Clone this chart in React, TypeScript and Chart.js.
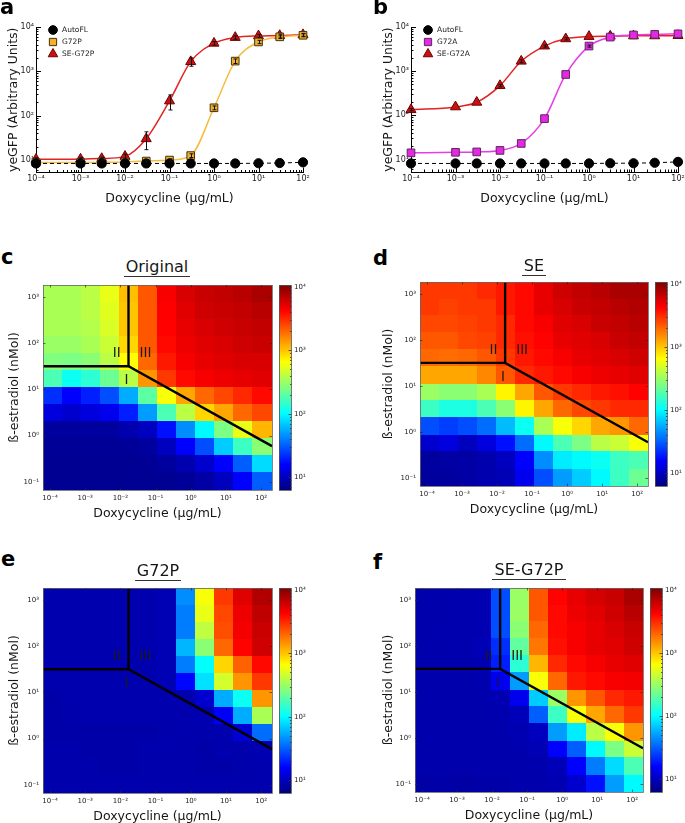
import React, { useEffect, useRef } from "react";
import { Chart, registerables } from "chart.js";

Chart.register(...registerables);
Chart.defaults.font.family = "'DejaVu Sans', 'Liberation Sans', sans-serif";
Chart.defaults.color = "#1e1e1e";

// ---------------- panels a & b : dose response ----------------
const doxycycline = [1e-4, 1e-3, 3e-3, 1e-2, 3e-2, 0.1, 0.3, 1, 3, 10, 30, 100];

const autoFlA = [8.3, 8.3, 8.3, 8.3, 8.3, 8.3, 8.3, 8.3, 8.3, 8.4, 8.5, 8.8];
const g72p = [8.7, 8.7, 8.8, 9.0, 9.4, 9.9, 12.5, 150, 1700, 4600, 6000, 6500];
const g72pErr = [0, 0, 0, 0, 0.5, 0.6, 1.2, 15, 200, 400, 500, 500];
const seG72p = [10.3, 10.4, 10.7, 12, 30, 214, 1650, 4300, 5800, 6300, 6400, 6700];
const seG72pErr = [0.8, 0.8, 0.8, 1.5, 13, 80, 350, 400, 500, 500, 500, 500];

const autoFlB = [8.1, 8.1, 8.1, 8.1, 8.1, 8.1, 8.1, 8.1, 8.2, 8.2, 8.4, 8.8];
const g72a = [14.1, 14.5, 14.8, 16, 23, 84, 840, 3700, 5900, 6600, 6800, 7000];
const g72aErr = [0.5, 0.5, 0.5, 0.6, 1, 4, 40, 200, 300, 300, 300, 300];
const seG72a = [134, 155, 197, 470, 1680, 3700, 5400, 6100, 6200, 6300, 6300, 6400];
const seG72aErr = [8, 8, 10, 30, 120, 200, 300, 300, 300, 300, 300, 300];

const doxyTicks = [1e-4, 1e-3, 1e-2, 1e-1, 1, 10, 100];
const gfpTicks = [10, 100, 1000, 10000];
const estradiolTicks = [0.1, 1, 10, 100, 1000];
const colorbarTicks = [10, 100, 1000, 10000];

// ---------------- panels c-f : heat maps (log10 yeGFP) ----------------
// rows: high -> low beta-estradiol, columns: low -> high doxycycline
const originalLog = [
  [2.55, 2.55, 2.6, 2.75, 3.02, 3.35, 3.65, 3.75, 3.8, 3.82, 3.85, 3.9],
  [2.55, 2.55, 2.6, 2.72, 3.0, 3.35, 3.63, 3.72, 3.78, 3.8, 3.82, 3.85],
  [2.55, 2.55, 2.58, 2.7, 3.0, 3.35, 3.62, 3.7, 3.75, 3.78, 3.8, 3.82],
  [2.5, 2.5, 2.55, 2.65, 2.95, 3.35, 3.6, 3.68, 3.72, 3.75, 3.78, 3.8],
  [2.42, 2.4, 2.45, 2.6, 2.82, 3.3, 3.55, 3.65, 3.7, 3.72, 3.75, 3.75],
  [2.25, 2.05, 2.15, 2.35, 2.6, 3.15, 3.45, 3.6, 3.65, 3.68, 3.7, 3.72],
  [1.35, 1.2, 1.3, 1.45, 1.75, 2.3, 2.8, 3.1, 3.3, 3.4, 3.5, 3.6],
  [1.1, 1.05, 1.1, 1.15, 1.3, 1.7, 2.25, 2.6, 2.95, 3.1, 3.3, 3.4],
  [0.9, 0.9, 0.9, 0.9, 0.95, 1.0, 1.25, 1.65, 2.0, 2.4, 2.75, 3.05],
  [0.87, 0.87, 0.87, 0.87, 0.88, 0.9, 1.0, 1.2, 1.45, 1.85, 2.2, 2.45],
  [0.86, 0.86, 0.86, 0.86, 0.86, 0.87, 0.9, 0.95, 1.05, 1.2, 1.5, 1.9],
  [0.86, 0.86, 0.86, 0.86, 0.86, 0.86, 0.86, 0.88, 0.92, 1.0, 1.2, 1.5],
];
const seLog = [
  [3.45, 3.45, 3.45, 3.5, 3.55, 3.6, 3.7, 3.78, 3.82, 3.85, 3.9, 3.9],
  [3.45, 3.42, 3.45, 3.45, 3.55, 3.6, 3.7, 3.75, 3.8, 3.82, 3.85, 3.87],
  [3.4, 3.4, 3.42, 3.45, 3.5, 3.6, 3.65, 3.72, 3.75, 3.8, 3.82, 3.85],
  [3.35, 3.35, 3.4, 3.42, 3.5, 3.58, 3.62, 3.7, 3.72, 3.75, 3.8, 3.82],
  [3.3, 3.28, 3.3, 3.35, 3.45, 3.55, 3.6, 3.65, 3.7, 3.72, 3.75, 3.78],
  [3.1, 3.1, 3.1, 3.2, 3.35, 3.5, 3.55, 3.6, 3.65, 3.68, 3.7, 3.72],
  [2.5, 2.45, 2.45, 2.55, 2.85, 3.1, 3.35, 3.45, 3.5, 3.55, 3.58, 3.62],
  [2.2, 2.1, 2.1, 2.25, 2.45, 2.85, 3.1, 3.3, 3.4, 3.45, 3.5, 3.5],
  [1.45, 1.4, 1.45, 1.55, 1.8, 2.05, 2.55, 2.8, 2.95, 3.1, 3.15, 3.3],
  [1.05, 1.1, 1.0, 1.1, 1.25, 1.55, 2.0, 2.25, 2.4, 2.6, 2.65, 2.8],
  [0.9, 0.92, 0.92, 0.95, 1.0, 1.2, 1.65, 1.95, 2.0, 2.05, 2.2, 2.25],
  [0.9, 0.9, 0.92, 0.95, 0.97, 1.15, 1.45, 1.7, 1.85, 2.0, 2.2, 2.35],
];
const g72pLog = [
  [0.95, 0.95, 0.95, 0.95, 0.95, 0.95, 0.97, 1.65, 2.8, 3.45, 3.72, 3.87],
  [0.95, 0.95, 0.95, 0.95, 0.95, 0.95, 0.97, 1.6, 2.75, 3.4, 3.68, 3.83],
  [0.95, 0.95, 0.95, 0.95, 0.95, 0.95, 0.97, 1.6, 2.62, 3.38, 3.66, 3.8],
  [0.95, 0.95, 0.95, 0.95, 0.95, 0.95, 0.97, 1.78, 2.45, 3.3, 3.62, 3.78],
  [0.95, 0.95, 0.95, 0.95, 0.95, 0.95, 0.97, 1.6, 2.02, 2.95, 3.32, 3.6],
  [0.95, 0.95, 0.95, 0.95, 0.95, 0.95, 0.97, 1.22, 1.92, 2.68, 3.15, 3.45],
  [0.93, 0.95, 0.95, 0.95, 0.95, 0.95, 0.95, 0.95, 1.05, 1.75, 2.05, 3.15],
  [0.93, 0.94, 0.95, 0.95, 0.95, 0.95, 0.95, 0.95, 0.96, 1.18, 1.75, 2.55],
  [0.93, 0.93, 0.93, 0.93, 0.93, 0.93, 0.94, 0.95, 0.94, 0.95, 1.07, 1.55],
  [0.94, 0.94, 0.93, 0.93, 0.93, 0.95, 0.95, 0.94, 0.93, 0.95, 0.94, 0.96],
  [0.94, 0.94, 0.94, 0.93, 0.93, 0.94, 0.94, 0.94, 0.93, 0.93, 0.94, 0.95],
  [0.94, 0.94, 0.94, 0.94, 0.94, 0.94, 0.94, 0.94, 0.94, 0.94, 0.94, 0.95],
];
const seG72pLog = [
  [0.94, 0.94, 0.95, 0.96, 1.45, 2.5, 3.35, 3.62, 3.7, 3.76, 3.8, 3.9],
  [0.94, 0.94, 0.95, 0.96, 1.45, 2.5, 3.35, 3.6, 3.68, 3.72, 3.78, 3.85],
  [0.94, 0.95, 0.95, 0.96, 1.45, 2.45, 3.3, 3.6, 3.65, 3.7, 3.75, 3.8],
  [0.94, 0.94, 0.95, 0.97, 1.35, 2.32, 3.25, 3.58, 3.65, 3.7, 3.72, 3.78],
  [0.94, 0.94, 0.94, 0.96, 1.3, 2.15, 3.05, 3.5, 3.6, 3.65, 3.7, 3.72],
  [0.94, 0.94, 0.94, 0.95, 1.15, 1.7, 2.8, 3.3, 3.55, 3.6, 3.65, 3.66],
  [0.94, 0.94, 0.94, 0.94, 0.96, 1.15, 1.85, 2.5, 3.15, 3.35, 3.5, 3.55],
  [0.94, 0.94, 0.94, 0.94, 0.95, 0.98, 1.5, 2.2, 2.8, 3.1, 3.3, 3.45],
  [0.94, 0.94, 0.94, 0.94, 0.94, 0.96, 1.0, 1.7, 1.95, 2.6, 2.8, 3.15],
  [0.94, 0.94, 0.94, 0.94, 0.94, 0.95, 0.97, 1.2, 1.5, 2.0, 2.4, 2.65],
  [0.94, 0.94, 0.94, 0.94, 0.94, 0.94, 0.95, 0.98, 1.2, 1.6, 1.9, 2.25],
  [0.92, 0.93, 0.92, 0.93, 0.93, 0.94, 0.94, 0.96, 1.05, 1.25, 1.7, 2.0],
];

// axis extents of the heat maps (log10 units) and colour range
const heatDoxyLog = [-4.2, 2.31];
const heatEstLog = [-1.18, 3.26];
const colorLog = [0.8, 4.03];

// regime boundaries (doxycycline, estradiol)
const boundaryLower = [
  { x: 6.31e-5, y: 31.6 },
  { x: 0.017, y: 31.6 },
  { x: 204, y: 0.59 },
];
const boundaryUpper = [
  { x: 0.017, y: 31.6 },
  { x: 0.017, y: 1820 },
];
const regimeLabels = [
  { text: "II", x: 0.0079, y: 59 },
  { text: "III", x: 0.052, y: 59 },
  { text: "I", x: 0.0148, y: 15.5 },
];

// ---------------- helpers ----------------
const SUP: Record<string, string> = {
  "-": "⁻", "0": "⁰", "1": "¹", "2": "²", "3": "³", "4": "⁴",
  "5": "⁵", "6": "⁶", "7": "⁷", "8": "⁸", "9": "⁹",
};
const pow10Label = (v: number) =>
  "10" + String(Math.round(Math.log10(v))).split("").map((c) => SUP[c]).join("");

const clamp01 = (v: number) => Math.max(0, Math.min(1, v));
function jet(t: number) {
  t = clamp01(t);
  const r = clamp01(1.5 - Math.abs(4 * t - 3));
  const g = clamp01(1.5 - Math.abs(4 * t - 2));
  const b = clamp01(1.5 - Math.abs(4 * t - 1));
  return `rgb(${Math.round(r * 255)},${Math.round(g * 255)},${Math.round(b * 255)})`;
}

type Box = { left: number; top: number; width: number; height: number };
type Area = { L: number; T: number; R: number; B: number };

function logAxis(o: {
  min: number; max: number; ticks: number[]; horizontal: boolean; size: number;
  position?: string; pad: number; font: number; title?: string; titlePad?: any; border?: boolean;
}) {
  return {
    type: "logarithmic",
    position: o.position,
    min: o.min,
    max: o.max,
    bounds: "data",
    grid: { display: false, drawTicks: false, tickLength: 0 },
    border: { display: !!o.border, color: "#000", width: 1 },
    ticks: {
      autoSkip: false,
      maxRotation: 0,
      minRotation: 0,
      padding: o.pad,
      color: "#222",
      font: { size: o.font },
      callback: (v: any) => pow10Label(Number(v)),
    },
    title: o.title
      ? { display: true, text: o.title, color: "#151515", font: { size: 12.5 }, padding: o.titlePad }
      : { display: false },
    afterBuildTicks: (s: any) => {
      s.ticks = o.ticks.map((v) => ({ value: v }));
    },
    afterFit: (s: any) => {
      if (o.horizontal) s.height = o.size;
      else s.width = o.size;
      s.paddingLeft = 0;
      s.paddingRight = 0;
      s.paddingTop = 0;
      s.paddingBottom = 0;
    },
  };
}

function drawMarker(ctx: CanvasRenderingContext2D, shape: string, x: number, y: number, r: number, fill: string, edge: string) {
  ctx.beginPath();
  if (shape === "circle") ctx.arc(x, y, r, 0, Math.PI * 2);
  else if (shape === "rect") {
    const s = r * Math.SQRT1_2;
    ctx.rect(x - s, y - s, 2 * s, 2 * s);
  } else {
    for (let k = 0; k < 3; k++) {
      const a = (k * 2 * Math.PI) / 3;
      const px = x + Math.sin(a) * r, py = y - Math.cos(a) * r;
      if (k === 0) ctx.moveTo(px, py);
      else ctx.lineTo(px, py);
    }
    ctx.closePath();
  }
  ctx.fillStyle = fill;
  ctx.fill();
  ctx.lineWidth = 1;
  ctx.strokeStyle = edge;
  ctx.stroke();
}

function inwardLogTicks(ctx: CanvasRenderingContext2D, scale: any, edge: number, dir: number, horizontal: boolean, major: number, minor: number) {
  const lo = Math.floor(Math.log10(scale.min)), hi = Math.ceil(Math.log10(scale.max));
  for (let e = lo; e <= hi; e++) {
    for (let m = 1; m <= 9; m++) {
      const v = m * Math.pow(10, e);
      if (v < scale.min * 0.999 || v > scale.max * 1.001) continue;
      const len = m === 1 ? major : minor;
      if (len <= 0) continue;
      const p = Math.round(scale.getPixelForValue(v)) + 0.5;
      ctx.beginPath();
      if (horizontal) {
        ctx.moveTo(p, edge);
        ctx.lineTo(p, edge + dir * len);
      } else {
        ctx.moveTo(edge, p);
        ctx.lineTo(edge + dir * len, p);
      }
      ctx.stroke();
    }
  }
}

// ---------------- line chart panels ----------------
type Series = {
  label: string; values: number[]; errors?: number[]; shape: string; radius: number;
  fill: string; edge: string; line: string; lineWidth: number; dash?: number[]; smooth: boolean;
};
type LinePanel = { key: string; canvas: Box; area: Area; yTitleX: number; xTitleY: number; series: Series[] };

const autoStyle = { shape: "circle", radius: 4.6, fill: "#000", edge: "#000", line: "#000", lineWidth: 1, dash: [4, 3], smooth: false };
const redStyle = { shape: "triangle", radius: 5.8, fill: "rgb(200,18,18)", edge: "rgb(110,0,0)", line: "rgb(225,35,35)", lineWidth: 1.5, smooth: true };

const linePanels: LinePanel[] = [
  {
    key: "a",
    canvas: { left: 0, top: 0, width: 338, height: 212 },
    area: { L: 36, T: 27, R: 303, B: 172.5 },
    yTitleX: 14,
    xTitleY: 199,
    series: [
      { label: "AutoFL", values: autoFlA, ...autoStyle },
      { label: "G72P", values: g72p, errors: g72pErr, shape: "rect", radius: 5.4, fill: "rgb(242,176,44)", edge: "rgb(70,50,10)", line: "rgb(246,188,62)", lineWidth: 1.5, smooth: true },
      { label: "SE-G72P", values: seG72p, errors: seG72pErr, ...redStyle },
    ],
  },
  {
    key: "b",
    canvas: { left: 340, top: 0, width: 345, height: 212 },
    area: { L: 411, T: 27, R: 678, B: 172 },
    yTitleX: 389,
    xTitleY: 199,
    series: [
      { label: "AutoFL", values: autoFlB, ...autoStyle },
      { label: "G72A", values: g72a, errors: g72aErr, shape: "rect", radius: 5.4, fill: "rgb(228,40,228)", edge: "rgb(90,40,90)", line: "rgb(232,60,232)", lineWidth: 1.5, smooth: true },
      { label: "SE-G72A", values: seG72a, errors: seG72aErr, ...redStyle },
    ],
  },
];

function makeLineChart(canvas: HTMLCanvasElement, p: LinePanel) {
  const cv = p.canvas, ar = p.area;
  const series = p.series;
  const extras = {
    id: "extras",
    afterDatasetsDraw(chart: any) {
      const { ctx } = chart;
      const ys = chart.scales.y;
      ctx.save();
      ctx.strokeStyle = "#111";
      ctx.lineWidth = 1;
      series.forEach((s, di) => {
        if (!s.errors) return;
        const meta = chart.getDatasetMeta(di);
        s.errors.forEach((err, j) => {
          if (!err) return;
          const el = meta.data[j];
          const v = s.values[j];
          const y0 = ys.getPixelForValue(Math.max(v - err, 1e-3));
          const y1 = ys.getPixelForValue(v + err);
          if (Math.abs(y0 - y1) < 2) return;
          const x = Math.round(el.x) + 0.5;
          ctx.beginPath();
          ctx.moveTo(x, y0);
          ctx.lineTo(x, y1);
          ctx.moveTo(x - 2, y0);
          ctx.lineTo(x + 2, y0);
          ctx.moveTo(x - 2, y1);
          ctx.lineTo(x + 2, y1);
          ctx.stroke();
        });
      });
      ctx.restore();
    },
    afterDraw(chart: any) {
      const { ctx, chartArea } = chart;
      ctx.save();
      ctx.strokeStyle = "#000";
      ctx.lineWidth = 1;
      inwardLogTicks(ctx, chart.scales.x, chartArea.bottom, -1, true, 5, 2.5);
      inwardLogTicks(ctx, chart.scales.y, chartArea.left, 1, false, 5, 2.5);
      // legend inside the plot
      series.forEach((s, i) => {
        const x = chartArea.left + 17;
        const y = chartArea.top + 3 + i * 12;
        drawMarker(ctx, s.shape, x, y, s.radius * 0.95, s.fill, s.edge);
        ctx.fillStyle = "#1a1a1a";
        ctx.font = "7.5px 'DejaVu Sans'";
        ctx.textBaseline = "middle";
        ctx.textAlign = "left";
        ctx.fillText(s.label, x + 9, y);
      });
      ctx.restore();
    },
  };
  return new Chart(canvas, {
    type: "line",
    data: {
      datasets: series.map((s) => ({
        label: s.label,
        data: doxycycline.map((x, i) => ({ x, y: s.values[i] })),
        borderColor: s.line,
        borderWidth: s.lineWidth,
        borderDash: s.dash || [],
        pointStyle: s.shape as any,
        pointRadius: s.radius,
        pointBackgroundColor: s.fill,
        pointBorderColor: s.edge,
        pointBorderWidth: 1,
        cubicInterpolationMode: s.smooth ? "monotone" : "default",
        tension: 0,
        clip: false,
      })),
    },
    options: {
      animation: false,
      responsive: false,
      events: [],
      layout: { padding: { top: ar.T - cv.top, right: cv.left + cv.width - ar.R, left: 0, bottom: 0 } },
      plugins: { legend: { display: false }, tooltip: { enabled: false } },
      scales: {
        x: logAxis({
          min: 1e-4, max: 100, ticks: doxyTicks, horizontal: true, size: cv.top + cv.height - ar.B,
          pad: 2, font: 8, title: "Doxycycline (µg/mL)", border: true,
          titlePad: { top: 0, bottom: cv.top + cv.height - p.xTitleY - 7.5 },
        }),
        y: logAxis({
          min: 5.19, max: 10000, ticks: gfpTicks, horizontal: false, size: ar.L - cv.left,
          pad: 2, font: 8, title: "yeGFP (Arbitrary Units)", border: true,
          titlePad: { top: p.yTitleX - cv.left - 7.5, bottom: 0 },
        }),
      } as any,
    },
    plugins: [extras],
  } as any);
}

// ---------------- heat map panels ----------------
type HeatPanel = { key: string; values: number[][]; canvas: Box; area: Area; yTitleX: number; xTitleY: number };

const heatPanels: HeatPanel[] = [
  { key: "c", values: originalLog, canvas: { left: 0, top: 278, width: 330, height: 247 }, area: { L: 43, T: 285, R: 272, B: 490 }, yTitleX: 15, xTitleY: 514 },
  { key: "d", values: seLog, canvas: { left: 340, top: 275, width: 345, height: 250 }, area: { L: 420, T: 282, R: 648, B: 486 }, yTitleX: 389, xTitleY: 510 },
  { key: "e", values: g72pLog, canvas: { left: 0, top: 580, width: 330, height: 250 }, area: { L: 43, T: 588, R: 272, B: 793 }, yTitleX: 15, xTitleY: 817 },
  { key: "f", values: seG72pLog, canvas: { left: 340, top: 580, width: 345, height: 250 }, area: { L: 415, T: 588, R: 643, B: 792 }, yTitleX: 389, xTitleY: 816 },
];

function makeHeatChart(canvas: HTMLCanvasElement, p: HeatPanel) {
  const cv = p.canvas, ar = p.area;
  const vals = p.values;
  const heat = {
    id: "heat",
    beforeDatasetsDraw(chart: any) {
      const { ctx } = chart;
      const xs = chart.scales.x, ys = chart.scales.y, cb = chart.scales.cb;
      const nR = vals.length, nC = vals[0].length;
      const dx = (heatDoxyLog[1] - heatDoxyLog[0]) / nC;
      const dy = (heatEstLog[1] - heatEstLog[0]) / nR;
      ctx.save();
      for (let r = 0; r < nR; r++) {
        for (let c = 0; c < nC; c++) {
          const x0 = xs.getPixelForValue(Math.pow(10, heatDoxyLog[0] + c * dx));
          const x1 = xs.getPixelForValue(Math.pow(10, heatDoxyLog[0] + (c + 1) * dx));
          const y0 = ys.getPixelForValue(Math.pow(10, heatEstLog[1] - r * dy));
          const y1 = ys.getPixelForValue(Math.pow(10, heatEstLog[1] - (r + 1) * dy));
          ctx.fillStyle = jet((vals[r][c] - colorLog[0]) / (colorLog[1] - colorLog[0]));
          ctx.fillRect(Math.floor(x0), Math.floor(y0), Math.ceil(x1) - Math.floor(x0), Math.ceil(y1) - Math.floor(y0));
        }
      }
      // colour bar
      const bx = cb.left + 7, bw = 12;
      const g = ctx.createLinearGradient(0, cb.bottom, 0, cb.top);
      for (let i = 0; i <= 64; i++) g.addColorStop(i / 64, jet(i / 64));
      ctx.fillStyle = g;
      ctx.fillRect(bx, cb.top, bw, cb.bottom - cb.top);
      ctx.strokeStyle = "#555";
      ctx.lineWidth = 0.8;
      ctx.strokeRect(bx + 0.5, cb.top + 0.5, bw, cb.bottom - cb.top);
      ctx.strokeStyle = "#333";
      ctx.lineWidth = 0.8;
      inwardLogTicks(ctx, cb, bx + bw + 0.5, -1, false, 3, 1.5);
      ctx.restore();
    },
    afterDatasetsDraw(chart: any) {
      const { ctx, chartArea } = chart;
      const xs = chart.scales.x, ys = chart.scales.y;
      ctx.save();
      ctx.fillStyle = "#1a1a1a";
      ctx.font = "13.5px 'DejaVu Sans'";
      ctx.textAlign = "center";
      ctx.textBaseline = "middle";
      regimeLabels.forEach((l) => ctx.fillText(l.text, xs.getPixelForValue(l.x), ys.getPixelForValue(l.y)));
      ctx.strokeStyle = "#666";
      ctx.lineWidth = 0.8;
      ctx.strokeRect(chartArea.left + 0.5, chartArea.top + 0.5, chartArea.right - chartArea.left, chartArea.bottom - chartArea.top);
      ctx.strokeStyle = "rgba(40,40,40,0.8)";
      inwardLogTicks(ctx, xs, chartArea.bottom, -1, true, 2.5, 0);
      inwardLogTicks(ctx, xs, chartArea.top, 1, true, 2.5, 0);
      inwardLogTicks(ctx, ys, chartArea.left, 1, false, 2.5, 0);
      inwardLogTicks(ctx, ys, chartArea.right, -1, false, 2.5, 0);
      ctx.restore();
    },
  };
  const lineDs = (data: any[]) => ({
    data,
    borderColor: "#000",
    borderWidth: 2.4,
    pointRadius: 0,
    tension: 0,
    borderJoinStyle: "miter",
    clip: false,
  });
  return new Chart(canvas, {
    type: "line",
    data: { datasets: [lineDs(boundaryLower), lineDs(boundaryUpper)] },
    options: {
      animation: false,
      responsive: false,
      events: [],
      layout: { padding: { top: ar.T - cv.top, right: 0, left: 0, bottom: 0 } },
      plugins: { legend: { display: false }, tooltip: { enabled: false } },
      scales: {
        x: logAxis({
          min: Math.pow(10, heatDoxyLog[0]), max: Math.pow(10, heatDoxyLog[1]), ticks: doxyTicks, horizontal: true,
          size: cv.top + cv.height - ar.B, pad: 4, font: 7, title: "Doxycycline (µg/mL)",
          titlePad: { top: 0, bottom: cv.top + cv.height - p.xTitleY - 7.5 },
        }),
        y: logAxis({
          min: Math.pow(10, heatEstLog[0]), max: Math.pow(10, heatEstLog[1]), ticks: estradiolTicks, horizontal: false,
          size: ar.L - cv.left, pad: 4, font: 7, title: "ß-estradiol (nMol)",
          titlePad: { top: p.yTitleX - cv.left - 7.5, bottom: 0 },
        }),
        cb: logAxis({
          min: Math.pow(10, colorLog[0]), max: Math.pow(10, colorLog[1]), ticks: colorbarTicks, horizontal: false,
          position: "right", size: cv.left + cv.width - ar.R, pad: 22, font: 7,
        }),
      } as any,
    },
    plugins: [heat],
  } as any);
}

// ---------------- components ----------------
function ChartCanvas({ box, build }: { box: Box; build: (c: HTMLCanvasElement) => Chart }) {
  const ref = useRef<HTMLCanvasElement>(null);
  useEffect(() => {
    const chart = build(ref.current!);
    return () => chart.destroy();
  }, []);
  return (
    <canvas
      ref={ref}
      width={box.width}
      height={box.height}
      style={{ position: "absolute", left: box.left, top: box.top, width: box.width, height: box.height }}
    />
  );
}

const panelLetters = [
  { t: "a", x: 0, base: 15 },
  { t: "b", x: 373, base: 15 },
  { t: "c", x: 1, base: 265 },
  { t: "d", x: 373, base: 266 },
  { t: "e", x: 1, base: 567 },
  { t: "f", x: 373, base: 570 },
];
const heatTitles = [
  { t: "Original", cx: 157, base: 272 },
  { t: "SE", cx: 534, base: 271.5 },
  { t: "G72P", cx: 158, base: 576.5 },
  { t: "SE-G72P", cx: 529, base: 575.5 },
];

export default function App() {
  return (
    <div
      style={{
        position: "fixed", left: 0, top: 0, width: 685, height: 823, overflow: "hidden",
        background: "#fff", fontFamily: "'DejaVu Sans', sans-serif", color: "#111",
      }}
    >
      {linePanels.map((p) => (
        <ChartCanvas key={p.key} box={p.canvas} build={(c) => makeLineChart(c, p)} />
      ))}
      {heatPanels.map((p) => (
        <ChartCanvas key={p.key} box={p.canvas} build={(c) => makeHeatChart(c, p)} />
      ))}
      {panelLetters.map((l) => (
        <div
          key={l.t}
          style={{ position: "absolute", left: l.x, top: l.base - 17.8, fontSize: 21, lineHeight: "21px", fontWeight: "bold", color: "#000" }}
        >
          {l.t}
        </div>
      ))}
      {heatTitles.map((h) => (
        <div
          key={h.t}
          style={{ position: "absolute", left: h.cx - 100, width: 200, textAlign: "center", top: h.base - 13.5, fontSize: 16, lineHeight: "16px", color: "#161616" }}
        >
          <span style={{ borderBottom: "1.3px solid #333", padding: "0 2px" }}>{h.t}</span>
        </div>
      ))}
    </div>
  );
}
